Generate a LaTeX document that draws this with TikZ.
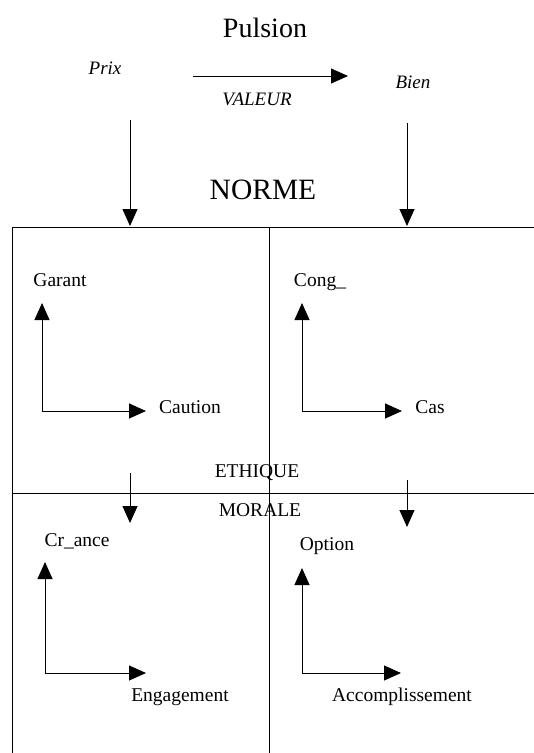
\documentclass[tikz,border=0pt]{standalone}
\usepackage{fontspec}
\setmainfont{Liberation Serif}
\usetikzlibrary{arrows.meta}

\begin{document}
\begin{tikzpicture}[x = 1pt, y = -1pt, font = \fontsize{19.5}{22}\selectfont]
	\tikzstyle{labelStyle} = [inner sep = 0pt]
	\tikzstyle{titleStyle} = [inner sep = 0pt, font = \fontsize{28}{32}\selectfont]
	\tikzstyle{italicStyle} = [inner sep = 0pt, font = \fontsize{19}{22}\selectfont\itshape]
	\tikzstyle{ArrowStyle} = [line width = 1pt, -{Triangle[length = 17pt, width = 15pt]}]
	\tikzstyle{LineStyle} = [line width = 1pt]
	\useasboundingbox (0,0) rectangle (534,753);
	% top part
	\node[titleStyle] (pulsion) at (265,28) {Pulsion};
	\node[italicStyle] (prix) at (105,68) {Prix};
	\node[italicStyle] (bien) at (413,82) {Bien};
	\node[italicStyle] (valeur) at (257,99) {VALEUR};
	\node[titleStyle, font = \fontsize{29.5}{32}\selectfont] (norme) at (263,190) {NORME};
	\coordinate (v0) at (193,76);
	\coordinate (v1) at (348,76);
	\coordinate (p0) at (130,120);
	\coordinate (p1) at (130,226);
	\coordinate (b0) at (407,123);
	\coordinate (b1) at (407,226);
	\draw[ArrowStyle] (v0) -- (v1);
	\draw[ArrowStyle] (p0) -- (p1);
	\draw[ArrowStyle] (b0) -- (b1);
	% the box
	\draw[LineStyle] (12,753) -- (12,227) -- (534,227);
	\draw[LineStyle] (269,227) -- (269,753);
	\draw[LineStyle] (12,493) -- (534,493);
	\node[labelStyle] (ethique) at (257,473) {ETHIQUE};
	\node[labelStyle] (morale) at (260,510) {MORALE};
	\coordinate (e0) at (130,473);
	\coordinate (e1) at (130,523);
	\coordinate (m0) at (407,480);
	\coordinate (m1) at (407,527);
	\draw[ArrowStyle] (e0) -- (e1);
	\draw[ArrowStyle] (m0) -- (m1);
	% upper left
	\node[labelStyle] (garant) at (60,280) {Garant};
	\node[labelStyle] (caution) at (190,407) {Caution};
	\coordinate (g0) at (42,411);
	\coordinate (g1) at (42,303);
	\coordinate (g2) at (146,411);
	\draw[ArrowStyle] (g0) -- (g1);
	\draw[ArrowStyle] (g0) -- (g2);
	% upper right
	\node[labelStyle] (conge) at (320,282) {Cong\_};
	\node[labelStyle] (cas) at (430,407) {Cas};
	\coordinate (c0) at (302,411);
	\coordinate (c1) at (302,303);
	\coordinate (c2) at (402,411);
	\draw[ArrowStyle] (c0) -- (c1);
	\draw[ArrowStyle] (c0) -- (c2);
	% lower left
	\node[labelStyle] (creance) at (77,541) {Cr\_ance};
	\node[labelStyle] (engagement) at (180,697) {Engagement};
	\coordinate (r0) at (45,673);
	\coordinate (r1) at (45,562);
	\coordinate (r2) at (146,673);
	\draw[ArrowStyle] (r0) -- (r1);
	\draw[ArrowStyle] (r0) -- (r2);
	% lower right
	\node[labelStyle] (option) at (327,546) {Option};
	\node[labelStyle] (accomplissement) at (402,697) {Accomplissement};
	\coordinate (o0) at (302,673);
	\coordinate (o1) at (302,568);
	\coordinate (o2) at (401,673);
	\draw[ArrowStyle] (o0) -- (o1);
	\draw[ArrowStyle] (o0) -- (o2);
\end{tikzpicture}
\end{document}
